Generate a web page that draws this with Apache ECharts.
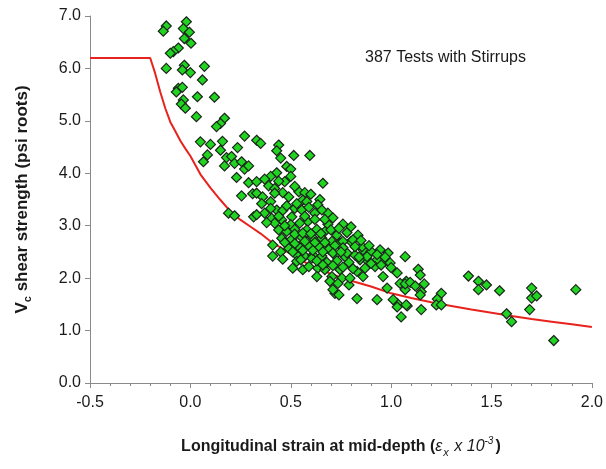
<!DOCTYPE html>
<html>
<head>
<meta charset="utf-8">
<script src="https://cdn.jsdelivr.net/npm/echarts@6/dist/echarts.min.js"></script>
<style>html,body{margin:0;padding:0;background:#fff}#c{width:606px;height:469px}</style>
</head>
<body>
<div id="c"></div>
<script>
// Tick labels
var xTicks = [-0.5, 0.0, 0.5, 1.0, 1.5, 2.0];
var yTicks = [0.0, 1.0, 2.0, 3.0, 4.0, 5.0, 6.0, 7.0];

// Red design curve (strain x 10^-3, Vc in psi roots)
var curveX = [-0.5, -0.2, -0.175, -0.15, -0.125, -0.1, -0.075, -0.05, -0.025, 0.0, 0.05, 0.1, 0.15, 0.2, 0.25, 0.3, 0.35, 0.4, 0.5, 0.6, 0.7, 0.8, 0.9, 1.0, 1.1, 1.2, 1.3, 1.4, 1.5, 1.6, 1.7, 1.8, 1.9, 2.0];
var curveY = [6.2, 6.2, 5.90, 5.55, 5.24, 4.98, 4.80, 4.62, 4.47, 4.33, 3.98, 3.72, 3.49, 3.27, 3.11, 2.98, 2.85, 2.70, 2.46, 2.24, 2.08, 1.95, 1.84, 1.71, 1.62, 1.54, 1.47, 1.40, 1.34, 1.28, 1.22, 1.17, 1.12, 1.07];

// Test results: strain (x 10^-3)
var testStrain = [
-0.04,-0.02,-0.12,-0.135,-0.035,-0.005,-0.03,0.003,-0.06,-0.085,-0.10,-0.12,-0.03,-0.04,0.0,0.07,0.06,-0.06,-0.04,-0.07,-0.035,-0.045,-0.025,0.035,0.12,0.03,0.17,0.15,0.13,
0.27,0.05,0.10,0.16,0.235,0.15,0.085,0.065,0.18,0.205,0.17,0.22,0.255,0.27,0.29,0.23,0.29,0.255,0.31,0.19,0.22,0.315,0.33,
0.33,0.35,0.44,0.43,0.45,0.515,0.595,0.48,0.50,0.43,0.40,0.37,0.50,0.47,0.66,0.39,0.42,0.46,0.54,0.57,0.33,0.36,0.40,0.355,0.645,0.56,0.52,0.555,0.43,0.46,0.62,0.635,0.685,0.37,0.405,0.455,0.505,0.585,0.545,0.50,0.685,0.76,
0.44,0.48,0.52,0.58,0.63,0.67,0.73,0.78,0.455,0.505,0.555,0.605,0.655,0.705,0.745,0.41,0.49,0.54,0.59,0.64,0.69,0.41,0.53,0.57,0.61,0.655,0.72,0.77,
0.33,0.51,0.56,0.53,0.605,0.59,0.635,0.63,0.67,0.705,0.695,0.745,0.755,0.735,0.72,0.74,0.79,0.795,0.83,0.86,0.83,0.835,0.80,0.86,0.845,0.885,
0.58,0.655,0.80,0.81,0.76,0.855,0.90,0.945,0.985,0.88,0.93,0.97,0.82,0.78,0.87,0.92,0.96,0.995,1.07,1.075,1.045,1.03,0.98,0.71,0.93,1.03,1.07,
1.07,1.095,1.12,1.135,1.145,1.165,1.15,1.145,1.25,1.23,1.225,1.25,1.15,1.08,1.03,1.01,1.05,1.385,1.435,1.435,1.475,
1.54,1.70,1.70,1.725,1.69,1.92,1.575,1.60,1.81,1.075,
0.42,0.47,0.52,0.56,0.60,0.65,0.70,0.74,0.47,0.52,0.57,0.62,0.67,0.72,0.76,0.45,0.51,0.56,0.61,0.66,0.71,0.75,0.46,0.55,0.63,0.68,0.73,0.79,
0.48,0.53,0.59,0.67,0.71,0.62,0.57,0.44,0.40,0.38,0.66,0.71,0.76,0.81,0.84,0.82,0.85,0.89,0.93,0.90,0.95,1.00,0.97,0.49,0.44,0.42,0.60,0.52
];
// Test results: shear strength (psi roots)
var testShear = [
7.01,6.89,6.81,6.71,6.76,6.69,6.57,6.48,6.39,6.32,6.29,6.00,6.06,5.97,5.92,6.04,5.78,5.62,5.64,5.55,5.40,5.32,5.24,5.46,5.45,5.08,5.05,4.95,4.89,
4.71,4.60,4.55,4.61,4.49,4.44,4.35,4.22,4.30,4.32,4.14,4.19,4.22,4.08,4.14,3.92,3.82,3.57,3.61,3.24,3.19,3.17,3.84,
4.63,4.57,4.54,4.43,4.29,4.34,4.34,4.13,4.08,4.01,3.94,3.89,3.94,3.84,3.81,3.76,3.71,3.63,3.65,3.63,3.62,3.55,3.46,3.42,3.50,3.49,3.33,3.30,3.30,3.29,3.24,3.40,3.24,3.24,3.14,3.11,3.17,3.08,3.05,3.02,3.03,3.03,
2.92,2.89,2.93,2.92,2.93,2.89,2.82,2.87,2.76,2.74,2.78,2.79,2.76,2.70,2.67,2.63,2.57,2.60,2.62,2.60,2.55,2.42,2.44,2.42,2.44,2.42,2.44,2.41,
3.21,2.19,2.16,2.32,2.38,2.22,2.19,2.03,2.16,2.03,1.94,2.16,2.00,1.90,1.71,1.68,1.87,2.00,2.13,2.03,1.61,2.82,2.70,2.54,2.35,2.32,
3.46,3.30,2.98,2.73,2.70,2.60,2.51,2.54,2.48,2.41,2.35,2.32,2.44,2.48,2.19,2.22,2.03,2.29,2.41,1.94,1.90,2.10,1.81,1.78,1.59,1.52,1.78,
1.89,1.92,1.85,2.17,2.06,1.89,1.74,1.68,1.71,1.60,1.49,1.49,1.40,1.47,1.45,1.59,1.26,2.04,1.94,1.78,1.87,
1.76,1.81,1.62,1.66,1.40,1.78,1.32,1.17,0.81,1.49,
3.05,3.00,2.84,2.86,2.85,2.85,2.92,2.95,2.68,2.66,2.70,2.68,2.68,2.62,2.58,2.50,2.50,2.53,2.53,2.50,2.48,2.50,2.36,2.35,2.33,2.30,2.33,2.30,
3.38,3.42,3.35,3.12,3.15,3.12,3.18,3.18,3.33,3.06,2.25,2.24,2.21,2.18,2.40,2.60,2.72,2.62,2.45,2.28,2.25,2.20,2.40,3.55,3.85,3.62,3.60,3.75
];

var curveData = curveX.map(function (x, i) { return [x, curveY[i]]; });
var testData = testStrain.map(function (x, i) { return [x, testShear[i]]; });

var chart = echarts.init(document.getElementById('c'), null, { renderer: 'canvas' });
var labelFont = 'Arial, "Liberation Sans", sans-serif';
chart.setOption({
  animation: false,
  backgroundColor: '#ffffff',
  grid: { left: 90, right: 14, top: 16, bottom: 86, containLabel: false },
  xAxis: {
    type: 'value', min: xTicks[0], max: xTicks[xTicks.length - 1], interval: 0.5,
    axisLine: { show: true, onZero: false, lineStyle: { color: '#8a8a8a', width: 1 } },
    axisTick: { show: true, length: 5, lineStyle: { color: '#8a8a8a' } },
    minorTick: { show: true, splitNumber: 5, length: 3, lineStyle: { color: '#8a8a8a' } },
    splitLine: { show: false },
    axisLabel: { margin: 12, fontSize: 16, color: '#1a1a1a', fontFamily: labelFont,
      formatter: function (v) { return v.toFixed(1); } },
    name: '{b|Longitudinal strain at mid-depth (}{i|ε}{is|x}{i| x 10}{sup|-3}{b|)}',
    nameLocation: 'middle', nameGap: 53,
    nameTextStyle: {
      rich: {
        b: { fontSize: 16, fontWeight: 'bold', color: '#1a1a1a', fontFamily: labelFont, lineHeight: 22, verticalAlign: 'middle' },
        i: { fontSize: 16, fontStyle: 'italic', color: '#1a1a1a', fontFamily: labelFont, lineHeight: 22, verticalAlign: 'middle' },
        is: { fontSize: 11, fontStyle: 'italic', color: '#1a1a1a', fontFamily: labelFont, verticalAlign: 'bottom', padding: [6, 1, 0, 1] },
        sup: { fontSize: 10, fontStyle: 'italic', color: '#1a1a1a', fontFamily: labelFont, verticalAlign: 'top', padding: [0, 2, 6, 0] }
      }
    }
  },
  yAxis: {
    type: 'value', min: yTicks[0], max: yTicks[yTicks.length - 1], interval: 1,
    axisLine: { show: true, onZero: false, lineStyle: { color: '#8a8a8a', width: 1 } },
    axisTick: { show: true, length: 5, lineStyle: { color: '#8a8a8a' } },
    splitLine: { show: false },
    axisLabel: { margin: 9, fontSize: 16, color: '#1a1a1a', fontFamily: labelFont,
      formatter: function (v) { return v.toFixed(1); } },
    name: '{b|V}{s|c}{b| shear strength (psi roots)}',
    nameLocation: 'middle', nameGap: 57, nameRotate: 90,
    nameTextStyle: {
      rich: {
        b: { fontSize: 17, fontWeight: 'bold', color: '#1a1a1a', fontFamily: labelFont, lineHeight: 22, verticalAlign: 'middle' },
        s: { fontSize: 11, fontWeight: 'bold', color: '#1a1a1a', fontFamily: labelFont, verticalAlign: 'bottom', padding: [6, 0, 0, 0] }
      }
    }
  },
  graphic: [{
    type: 'text', left: 365, top: 50,
    style: { text: '387 Tests with Stirrups', fontSize: 16, fontFamily: labelFont, fill: '#1a1a1a' }
  }],
  series: [
    {
      type: 'line', data: curveData, showSymbol: false, symbol: 'none', z: 2,
      lineStyle: { color: '#e8231d', width: 2 }
    },
    {
      type: 'scatter', data: testData, symbol: 'diamond', symbolSize: 10, z: 3,
      itemStyle: { color: '#22d422', borderColor: '#1a261a', borderWidth: 1.2, opacity: 1 }
    }
  ]
});
</script>
</body>
</html>
